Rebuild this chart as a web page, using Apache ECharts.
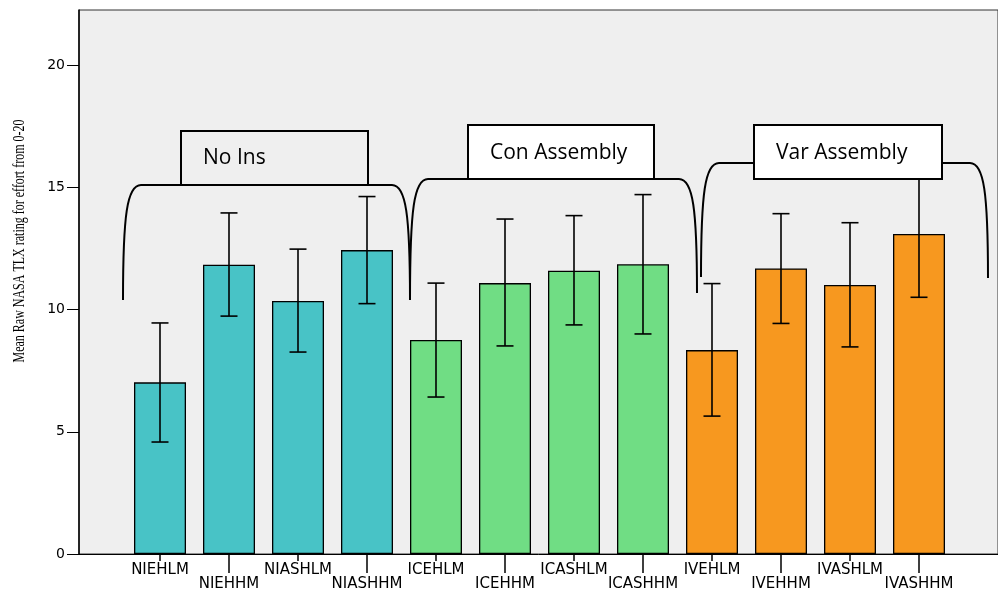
<!DOCTYPE html>
<html>
<head>
<meta charset="utf-8">
<script src="https://cdn.jsdelivr.net/npm/echarts@6/dist/echarts.min.js"></script>
<style>
html,body{margin:0;padding:0;background:#fff;}
#chart{width:998px;height:592px;}
</style>
</head>
<body>
<div id="chart"></div>
<script>
// ---- data ----
var categories = ['NIEHLM','NIEHHM','NIASHLM','NIASHHM','ICEHLM','ICEHHM','ICASHLM','ICASHHM','IVEHLM','IVEHHM','IVASHLM','IVASHHM'];
var groups = ['No Ins','No Ins','No Ins','No Ins','Con Assembly','Con Assembly','Con Assembly','Con Assembly','Var Assembly','Var Assembly','Var Assembly','Var Assembly'];
var means = [7.02, 11.83, 10.35, 12.43, 8.75, 11.08, 11.59, 11.85, 8.34, 11.68, 11.00, 13.09];
var errLow = [4.58, 9.73, 8.26, 10.24, 6.42, 8.51, 9.37, 9.00, 5.64, 9.43, 8.47, 10.50];
var errHigh = [9.45, 13.95, 12.47, 14.62, 11.08, 13.70, 13.84, 14.70, 11.06, 13.92, 13.55, 15.68];
var yTicks = [0, 5, 10, 15, 20];
var groupNames = ['No Ins', 'Con Assembly', 'Var Assembly'];
var groupColors = {'No Ins': '#48c3c6', 'Con Assembly': '#70dd84', 'Var Assembly': '#f7981f'};
var yTitle = 'Mean Raw NASA TLX rating for effort from 0-20';

var chart = echarts.init(document.getElementById('chart'), null, {renderer: 'canvas'});
var YMAX = 22.25;

var barData = means.map(function (v, i) {
  return {value: v, itemStyle: {color: groupColors[groups[i]]}};
});
var errData = categories.map(function (c, i) { return [i, errLow[i], errHigh[i]]; });

var labelFont = {fontFamily: 'DejaVu Sans', fontSize: 15, color: '#000'};

var option = {
  animation: false,
  backgroundColor: '#ffffff',
  grid: [
    {left: 79, right: -3, top: 10, bottom: 38, show: true, backgroundColor: '#efefef', borderColor: '#333', borderWidth: 1},
    {left: 125.5, right: 44.5, top: 10, bottom: 38}
  ],
  xAxis: [
    {gridIndex: 0, type: 'value', min: 0, max: 1, axisLine: {show: true, onZero: false, lineStyle: {color: '#000', width: 1}},
     axisTick: {show: false}, axisLabel: {show: false}, splitLine: {show: false}},
    {gridIndex: 1, type: 'category', data: categories, position: 'bottom',
     axisLine: {show: false}, splitLine: {show: false},
     axisTick: {show: true, alignWithLabel: true, length: 7, interval: function (i) { return i % 2 === 0; }, lineStyle: {color: '#000', width: 1.5}},
     axisLabel: Object.assign({interval: function (i) { return i % 2 === 0; }, margin: 9}, labelFont)},
    {gridIndex: 1, type: 'category', data: categories, position: 'bottom',
     axisLine: {show: false}, splitLine: {show: false},
     axisTick: {show: true, alignWithLabel: true, length: 19, interval: function (i) { return i % 2 === 1; }, lineStyle: {color: '#000', width: 1.5}},
     axisLabel: Object.assign({interval: function (i) { return i % 2 === 1; }, margin: 23}, labelFont)}
  ],
  yAxis: [
    {gridIndex: 0, type: 'value', min: 0, max: YMAX, interval: 5,
     axisLine: {show: true, lineStyle: {color: '#000', width: 1.5}},
     axisTick: {show: true, length: 12, lineStyle: {color: '#000', width: 1}},
     axisLabel: {showMaxLabel: false, margin: 14, fontFamily: 'DejaVu Sans', fontSize: 14, color: '#000',
                 formatter: function (v) { return yTicks.indexOf(v) >= 0 ? String(v) : ''; }},
     splitLine: {show: false}},
    {gridIndex: 1, type: 'value', min: 0, max: YMAX, show: false}
  ],
  series: [
    {type: 'bar', xAxisIndex: 1, yAxisIndex: 1, data: barData, barWidth: 52,
     itemStyle: {borderColor: '#000', borderWidth: 1.3}, z: 2},
    {type: 'custom', xAxisIndex: 1, yAxisIndex: 1, data: errData, z: 5,
     renderItem: function (params, api) {
       var x = api.value(0);
       var lo = api.coord([x, api.value(1)]);
       var hi = api.coord([x, api.value(2)]);
       var hw = 8.5;
       var st = {stroke: '#000', lineWidth: 1.6};
       return {type: 'group', children: [
         {type: 'line', shape: {x1: lo[0], y1: lo[1], x2: hi[0], y2: hi[1]}, style: st},
         {type: 'line', shape: {x1: lo[0] - hw, y1: lo[1], x2: lo[0] + hw, y2: lo[1]}, style: st},
         {type: 'line', shape: {x1: hi[0] - hw, y1: hi[1], x2: hi[0] + hw, y2: hi[1]}, style: st}
       ]};
     }}
  ]
};
chart.setOption(option);

// ---- annotations (group brackets and labels) ----
var bs = {stroke: '#000', lineWidth: 2, fill: null};
function bracket(xl, yl, yTop, xr, yr, r) {
  return [
    {type: 'bezierCurve', z: 100, shape: {x1: xl, y1: yl, cpx1: xl, cpy1: yTop + 30, cpx2: xl + 4, cpy2: yTop, x2: xl + r, y2: yTop}, style: bs},
    {type: 'line', z: 100, shape: {x1: xl + r, y1: yTop, x2: xr - r, y2: yTop}, style: bs},
    {type: 'bezierCurve', z: 100, shape: {x1: xr - r, y1: yTop, cpx1: xr - 4, cpy1: yTop, cpx2: xr, cpy2: yTop + 30, x2: xr, y2: yr}, style: bs}
  ];
}
var labelStyleFont = '21px "Open Sans"';
var graphics = [
  {type: 'text', z: 100, x: 20, y: 241, rotation: Math.PI / 2, scaleX: 0.75,
   style: {text: yTitle, font: '16px "Liberation Serif"', fill: '#000', textAlign: 'center', textVerticalAlign: 'middle'}}
].concat(
  bracket(123, 300, 185, 410, 300, 18),
  bracket(410, 300, 179, 697, 293, 18),
  bracket(701, 277, 163, 988, 278, 18),
  [
  {type: 'rect', z: 101, shape: {x: 181, y: 131, width: 187, height: 54}, style: {fill: '#efefef', stroke: '#000', lineWidth: 2}},
  {type: 'rect', z: 101, shape: {x: 468, y: 125, width: 186, height: 54}, style: {fill: '#ffffff', stroke: '#000', lineWidth: 2}},
  {type: 'rect', z: 101, shape: {x: 754, y: 125, width: 188, height: 54}, style: {fill: '#ffffff', stroke: '#000', lineWidth: 2}},
  {type: 'text', z: 102, x: 203, y: 158, style: {text: groupNames[0], font: labelStyleFont, fill: '#000', textVerticalAlign: 'middle'}},
  {type: 'text', z: 102, x: 490, y: 153, style: {text: groupNames[1], font: labelStyleFont, fill: '#000', textVerticalAlign: 'middle'}},
  {type: 'text', z: 102, x: 776, y: 153, style: {text: groupNames[2], font: labelStyleFont, fill: '#000', textVerticalAlign: 'middle'}}
  ]
);
chart.setOption({graphic: {elements: graphics}});
</script>
</body>
</html>
